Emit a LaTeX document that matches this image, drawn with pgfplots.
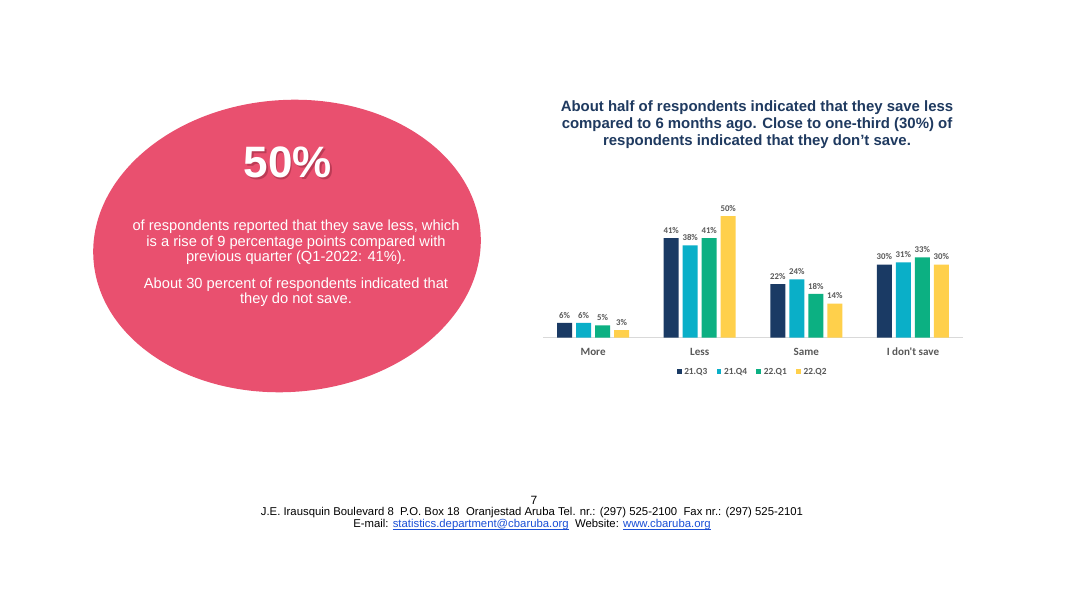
\documentclass[border=0pt]{standalone}
\usepackage{fontspec}
\setmainfont{Liberation Sans}
\newfontfamily\calfont{Carlito}
\usepackage{pgfplots}
\pgfplotsset{compat=1.18}
\newcommand\myul[1]{\leavevmode\setbox0\hbox{#1}\rlap{\vrule height -0.9pt depth 1.5pt width \wd0}\box0}
\definecolor{cA}{HTML}{1A3A64}
\definecolor{cB}{HTML}{0AAFC8}
\definecolor{cC}{HTML}{0CB082}
\definecolor{cD}{HTML}{FFD04B}
\definecolor{pinkbg}{HTML}{E9506F}
\definecolor{pinkdark}{HTML}{9E2E45}
\definecolor{titlenavy}{HTML}{1F3A60}
\definecolor{labgray}{HTML}{595959}
\definecolor{axisgray}{HTML}{D9D9D9}
\definecolor{linkblue}{HTML}{1A4FD6}
\begin{document}
\begin{tikzpicture}[x=0.75pt,y=0.75pt]
\fill[white] (0,0) rectangle (1080,608);
% ellipse
\fill[pinkbg, rotate around={4:(287,362)}] (287,362) ellipse [x radius=194, y radius=146];
% 50%
\node[text=pinkdark, opacity=0.6, font=\bfseries\fontsize{33}{36}\selectfont] at (289.5,443.5) {50\%};
\node[text=white, font=\bfseries\fontsize{33}{36}\selectfont] at (288,446) {50\%};
% paragraph
\node[text=white, align=center, font=\fontsize{11}{11.6}\selectfont] at (296,365.5) {of respondents reported that they save less, which\\ is a rise of 9 percentage points compared with\\ previous quarter (Q1-2022: 41\%).};
\node[text=white, align=center, font=\fontsize{11}{11.6}\selectfont] at (296,316) {About 30 percent of respondents indicated that\\ they do not save.};
% title
\node[text=titlenavy, align=center, font=\bfseries\fontsize{11.2}{12.75}\selectfont] at (757,483) {About half of respondents indicated that they save less\\ compared to 6 months ago. Close to one-third (30\%) of\\ respondents indicated that they don’t save.};
% footer
\node[font=\fontsize{9}{9}\selectfont] at (534,108) {7};
\node[font=\fontsize{8.5}{9}\selectfont] at (532,95) {J.E. Irausquin Boulevard 8\ \ P.O. Box 18\ \ Oranjestad Aruba Tel. nr.: (297) 525-2100\ \ Fax nr.: (297) 525-2101};
\node[font=\fontsize{8.5}{9}\selectfont] at (532,83) {E-mail: \textcolor{linkblue}{\myul{statistics.department@cbaruba.org}}\ \ Website: \textcolor{linkblue}{\myul{www.cbaruba.org}}};
% chart
\coordinate (AX) at (543,270.5);
\begin{axis}[
  at={(AX)}, anchor=south west,
  scale only axis, width=315pt, height=109.2pt,
  xmin=-0.47, xmax=3.47, ymin=0, ymax=60,
  ybar=3pt, bar width=11.25pt,
  axis x line*=bottom, axis y line=none,
  x axis line style={draw=axisgray, line width=0.8pt, -},
  xtick={0,1,2,3}, xticklabels={More,Less,Same,I don't save},
  major tick length=0pt,
  /pgf/number format/assume math mode=true,
  xticklabel style={anchor=base, yshift=-13.3pt, font=\calfont\bfseries\fontsize{8.3}{9}\selectfont, text=labgray},
  nodes near coords={\pgfmathprintnumber{\pgfplotspointmeta}\%},
  every node near coord/.append style={font=\calfont\bfseries\fontsize{6.6}{7}\selectfont, text=labgray},
  legend style={at={(0.5,-0.237)}, anchor=center, draw=none, fill=none, legend columns=-1,
    font=\calfont\bfseries\fontsize{7}{8}\selectfont, text=labgray,
    /tikz/every even column/.append style={column sep=5pt}},
  legend image code/.code={\fill[#1] (0pt,-1.6pt) rectangle (3.6pt,2pt);},
]
\addplot[fill=cA, draw=none] coordinates {(0,6) (1,41) (2,22) (3,30)};
\addplot[fill=cB, draw=none] coordinates {(0,6) (1,38) (2,24) (3,31)};
\addplot[fill=cC, draw=none] coordinates {(0,5) (1,41) (2,18) (3,33)};
\addplot[fill=cD, draw=none] coordinates {(0,3) (1,50) (2,14) (3,30)};
\legend{21.Q3,21.Q4,22.Q1,22.Q2}
\end{axis}
\end{tikzpicture}
\end{document}
